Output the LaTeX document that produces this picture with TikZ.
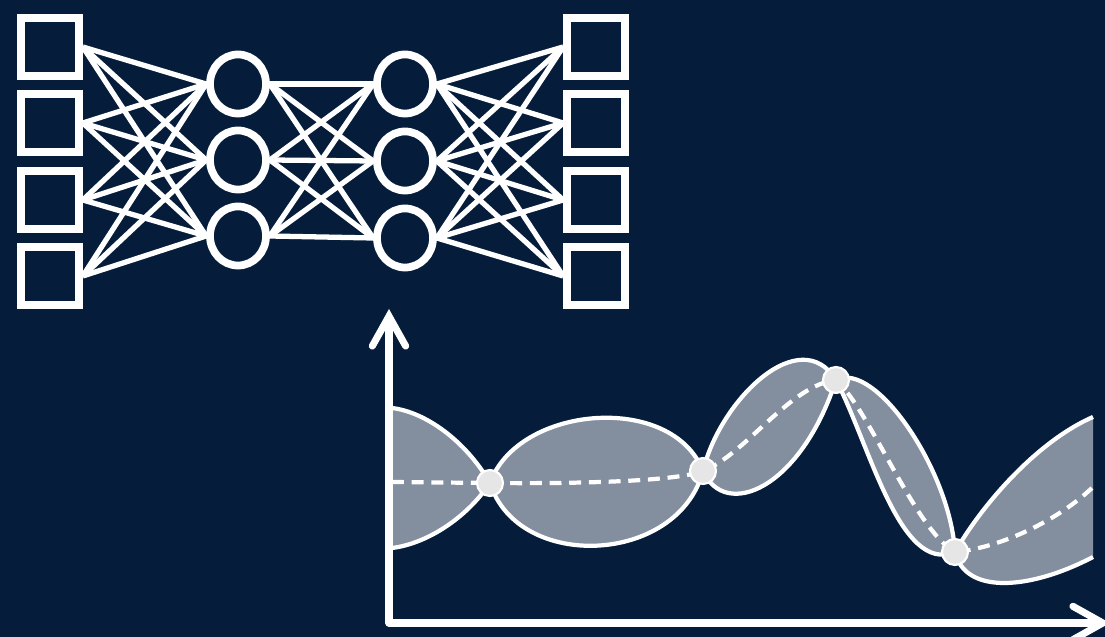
\documentclass[tikz,border=0pt]{standalone}
\usetikzlibrary{arrows.meta,shapes.geometric}
\definecolor{navy}{RGB}{5,29,58}
\definecolor{bandgray}{RGB}{131,142,158}
\definecolor{knotgray}{RGB}{230,230,230}
\begin{document}
\begin{tikzpicture}[x=0.01cm,y=-0.01cm,
  unit/.style={draw=white,line width=2.2pt,fill=navy,rectangle,minimum width=0.58cm,minimum height=0.58cm,inner sep=0pt},
  neuron/.style={draw=white,line width=2.2pt,fill=navy,ellipse,minimum width=0.56cm,minimum height=0.59cm,inner sep=0pt},
  link/.style={white,line width=1.5pt},
  band/.style={fill=bandgray},
  rim/.style={draw=white,line width=1.2pt},
  mean/.style={draw=white,line width=1.2pt,dash pattern=on 3.4pt off 2.2pt},
  knot/.style={circle,fill=knotgray,draw=white,line width=0.6pt,minimum size=0.26cm,inner sep=0pt},
  axis/.style={white,line width=2pt,line cap=round,line join=round,{Straight Barb[length=8.5pt,width=9.5pt,line cap=round]}-{Straight Barb[length=8.5pt,width=9.5pt,line cap=round]}}]
% canvas
\fill[navy] (0,0) rectangle (1105,637);
\useasboundingbox (0,0) rectangle (1105,637);
\clip (0,0) rectangle (1105,637);

% ---- network ----
\foreach \i/\y in {1/47,2/123,3/200,4/276} {
  \node[unit] (in\i) at (50,\y) {};
  \node[unit] (out\i) at (596,\y) {};
}
\foreach \i/\y in {1/84,2/160,3/236} \node[neuron] (a\i) at (238,\y) {};
\foreach \i/\y in {1/84,2/161,3/238} \node[neuron] (b\i) at (405,\y) {};

\foreach \i in {1,...,4} \foreach \j in {1,2,3} \draw[link] (in\i.east) -- (a\j.west);
\foreach \i in {1,2,3} \foreach \j in {1,2,3} \draw[link] (a\i.east) -- (b\j.west);
\foreach \i in {1,2,3} \foreach \j in {1,...,4} \draw[link] (b\i.east) -- (out\j.west);

% ---- uncertainty bands ----
\coordinate (p1) at (490,483);
\coordinate (p2) at (703,471);
\coordinate (p3) at (836,380);
\coordinate (p4) at (955,552);
\coordinate (l0) at (392,408);
\coordinate (l1) at (392,548);
\coordinate (r0) at (1093,417);
\coordinate (r1) at (1093,557);

\fill[band] (l0) .. controls (425,412) and (465,440) .. (p1)
  .. controls (465,520) and (425,544) .. (l1) -- cycle;
\fill[band] (p1) .. controls (518,405) and (672,392) .. (p2)
  .. controls (678,565) and (518,572) .. (p1) -- cycle;
\fill[band] (p2) .. controls (720,400) and (800,322) .. (p3)
  .. controls (800,490) and (725,520) .. (p2) -- cycle;
\fill[band] (p3) .. controls (875,360) and (950,470) .. (p4)
  .. controls (900,575) and (870,445) .. (p3) -- cycle;
\fill[band] (p4) .. controls (985,500) and (1040,440) .. (r0)
  -- (r1) .. controls (1030,590) and (965,595) .. (p4) -- cycle;

\draw[rim] (l0) .. controls (425,412) and (465,440) .. (p1);
\draw[rim] (l1) .. controls (425,544) and (465,520) .. (p1);
\draw[rim] (p1) .. controls (518,405) and (672,392) .. (p2);
\draw[rim] (p1) .. controls (518,572) and (678,565) .. (p2);
\draw[rim] (p2) .. controls (720,400) and (800,322) .. (p3);
\draw[rim] (p2) .. controls (725,520) and (800,490) .. (p3);
\draw[rim] (p3) .. controls (875,360) and (950,470) .. (p4);
\draw[rim] (p3) .. controls (870,445) and (900,575) .. (p4);
\draw[rim] (p4) .. controls (985,500) and (1040,440) .. (r0);
\draw[rim] (p4) .. controls (965,595) and (1030,590) .. (r1);

% mean curve
\coordinate (m0) at (392,482);
\coordinate (m5) at (1095,485);
\draw[mean] (m0) -- (p1)
  .. controls (600,484) and (680,480) .. (p2)
  .. controls (745,455) and (790,385) .. (p3)
  .. controls (870,410) and (915,530) .. (p4)
  .. controls (1000,548) and (1060,520) .. (m5);

\node[knot] (k1) at (p1) {};
\node[knot] (k2) at (p2) {};
\node[knot] (k3) at (p3) {};
\node[knot] (k4) at (p4) {};

% ---- axes ----
\coordinate (ytop) at (389,309);
\coordinate (origin) at (389,623);
\coordinate (xend) at (1110,623);
\draw[axis] (ytop) -- (origin) -- (xend);
\end{tikzpicture}
\end{document}
